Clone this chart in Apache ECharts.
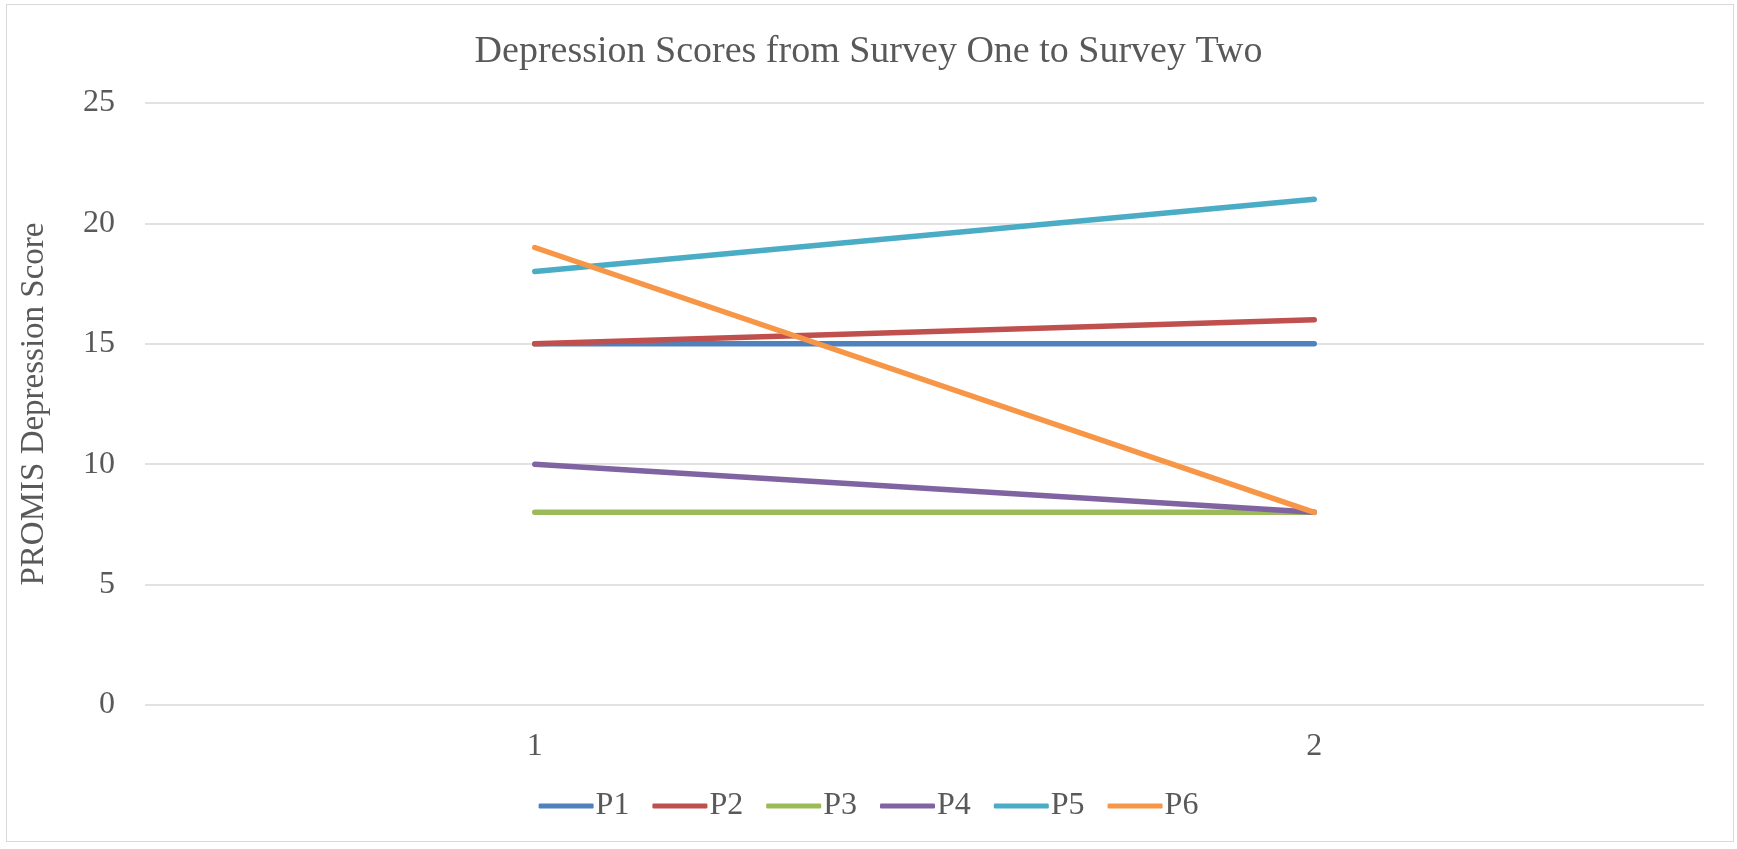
<!DOCTYPE html>
<html>
<head>
<meta charset="utf-8">
<script src="https://cdn.jsdelivr.net/npm/echarts@6/dist/echarts.min.js"></script>
<style>
  html, body { margin: 0; padding: 0; background: #fff; }
  #frame { position: absolute; left: 6px; top: 4px; width: 1728px; height: 838px; border: 1px solid #d9d9d9; box-sizing: border-box; }
  #chart { position: absolute; left: 0; top: 0; width: 1737px; height: 849px; }
</style>
</head>
<body>
<div id="frame"></div>
<div id="chart"></div>
<script>
// Survey rounds on the x axis
const surveys = ['1', '2'];
// PROMIS depression scores per participant
const P1 = [15, 15];
const P2 = [15, 16];
const P3 = [8, 8];
const P4 = [10, 8];
const P5 = [18, 21];
const P6 = [19, 8];
const participantNames = ['P1', 'P2', 'P3', 'P4', 'P5', 'P6'];
const participantData = [P1, P2, P3, P4, P5, P6];
const palette = ['#4F81BD', '#C0504D', '#9BBB59', '#8064A2', '#4BACC6', '#F79646'];

const font = '"Liberation Serif", "Times New Roman", serif';
const textColor = '#595959';

const chart = echarts.init(document.getElementById('chart'));
chart.setOption({
  animation: false,
  color: palette,
  textStyle: { fontFamily: font },
  title: {
    text: 'Depression Scores from Survey One to Survey Two',
    left: 'center',
    top: 28,
    textStyle: { fontFamily: font, fontSize: 38, fontWeight: 'normal', color: textColor }
  },
  grid: { left: 145, right: 33, top: 103, bottom: 144, containLabel: false },
  legend: {
    bottom: 22,
    left: 'center',
    icon: 'roundRect',
    itemWidth: 55,
    itemHeight: 5,
    itemGap: 23,
    textStyle: { fontFamily: font, fontSize: 32, color: textColor, padding: [0, 0, 0, -3] },
    data: participantNames
  },
  xAxis: {
    type: 'category',
    data: surveys,
    boundaryGap: true,
    axisLine: { show: false },
    axisTick: { show: false },
    axisLabel: { fontFamily: font, fontSize: 32, color: textColor, margin: 26 }
  },
  yAxis: {
    type: 'value',
    min: 0,
    max: 25,
    interval: 5,
    name: 'PROMIS Depression Score',
    nameLocation: 'middle',
    nameGap: 94,
    nameRotate: 90,
    nameTextStyle: { fontFamily: font, fontSize: 33, color: textColor },
    axisLine: { show: false },
    axisTick: { show: false },
    axisLabel: { fontFamily: font, fontSize: 32, color: textColor, margin: 30 },
    splitLine: { lineStyle: { color: '#d9d9d9', width: 1.5 } }
  },
  series: participantNames.map((name, i) => ({
    name: name,
    type: 'line',
    data: participantData[i],
    showSymbol: false,
    symbol: 'none',
    lineStyle: { width: 5.5, cap: 'round', join: 'round', color: palette[i] },
    itemStyle: { color: palette[i] }
  }))
});
</script>
</body>
</html>
